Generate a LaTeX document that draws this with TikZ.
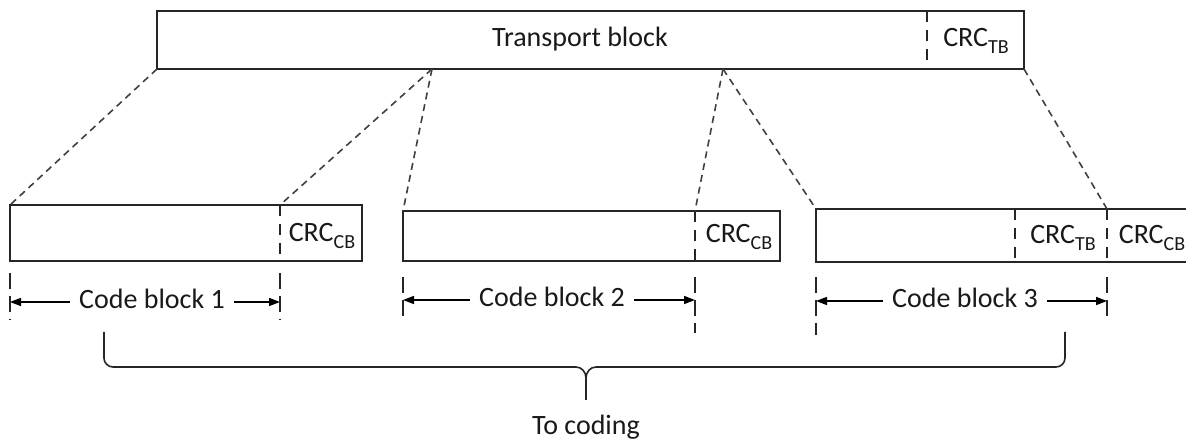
\documentclass[tikz,border=0pt]{standalone}
\usepackage{fontspec}
\setmainfont{Carlito}
\usetikzlibrary{arrows.meta,calc}
\newcommand\lowsub[1]{\raisebox{-7pt}{\fontsize{20}{20}\selectfont #1}}
\begin{document}
\begin{tikzpicture}[x=1pt,y=-1pt,
  blk/.style={draw=black!85,line width=1.8pt,inner sep=0pt,outer sep=0pt,anchor=north west},
  divider/.style={draw=black!85,line width=1.6pt,dash pattern=on 11pt off 8pt},
  splitline/.style={draw=black!75,line width=1.6pt,dash pattern=on 7pt off 5pt},
  tick/.style={draw=black!85,line width=1.6pt,dash pattern=on 16pt off 7pt},
  dim/.style={draw=black,line width=1.6pt,-{Triangle[length=11pt,width=8pt]}},
  lbl/.style={font=\fontsize{28}{30}\selectfont,text=black!90,inner sep=0pt},
  span/.style={lbl,anchor=base,text height=20pt,text depth=6pt,inner xsep=9pt},
  brace/.style={draw=black!85,line width=1.6pt}]
\useasboundingbox (0,0) rectangle (1186,443);
\clip (0,0) rectangle (1186,443);

% transport block with its CRC
\node[blk,minimum width=867pt,minimum height=58pt] (tb) at (157,11) {};
\coordinate (tbcut) at (927,11);
\draw[divider] (tbcut) -- (tbcut |- tb.south);
\node[lbl,anchor=base] (tbtext) at (580,47) {Transport block};
\node[lbl,anchor=base] (tbcrc) at (976,47) {CRC\lowsub{TB}};
\coordinate (s1) at (432,69);
\coordinate (s2) at (723,69);

% code blocks
\node[blk,minimum width=352pt,minimum height=56pt] (cb1) at (10,205) {};
\coordinate (c1) at (280,205);
\draw[divider] (c1) -- (c1 |- cb1.south);
\node[lbl,anchor=base] (crc1) at (322,242) {CRC\lowsub{CB}};

\node[blk,minimum width=377pt,minimum height=50pt] (cb2) at (403,211) {};
\coordinate (c2) at (695,211);
\draw[divider] (c2) -- (c2 |- cb2.south);
\node[lbl,anchor=base] (crc2) at (739,243) {CRC\lowsub{CB}};

\node[blk,minimum width=390pt,minimum height=53pt] (cb3) at (816,209) {};
\coordinate (c3a) at (1015,209);
\coordinate (c3b) at (1107,209);
\draw[divider] (c3a) -- (c3a |- cb3.south);
\draw[divider] (c3b) -- (c3b |- cb3.south);
\node[lbl,anchor=base] (crc3a) at (1063,244) {CRC\lowsub{TB}};
\node[lbl,anchor=base] (crc3b) at (1152,244) {CRC\lowsub{CB}};

% segmentation lines
\draw[splitline] (tb.south west) -- (cb1.north west);
\draw[splitline] (s1) -- (c1);
\draw[splitline] (s1) -- (cb2.north west);
\draw[splitline] (s2) -- (c2);
\draw[splitline] (s2) -- (cb3.north west);
\draw[splitline] (tb.south east) -- (c3b);

% extent of each code block
\draw[tick] (10,273) -- (10,320);
\draw[tick] (280,273) -- (280,320);
\node[span] (len1) at (152,309) {Code block 1};
\draw[dim] (len1.west) -- (len1.west -| cb1.west);
\draw[dim] (len1.east) -- (len1.east -| c1);

\draw[tick] (403,277) -- (403,320);
\draw[tick] (695,277) -- (695,333);
\node[span] (len2) at (552,307) {Code block 2};
\draw[dim] (len2.west) -- (len2.west -| cb2.west);
\draw[dim] (len2.east) -- (len2.east -| c2);

\draw[tick] (816,277) -- (816,335);
\draw[tick] (1107,277) -- (1107,320);
\node[span] (len3) at (965,308) {Code block 3};
\draw[dim] (len3.west) -- (len3.west -| cb3.west);
\draw[dim] (len3.east) -- (len3.east -| c3b);

% brace gathering the code blocks
\coordinate (bl) at (104,332);
\coordinate (br) at (1065,332);
\coordinate (bt) at (586,400);
\draw[brace] (bl) -- (104,358) to[out=-90,in=180] (113,367) -- (576,367)
  to[out=0,in=90] (bt |- 0,378) -- (bt);
\draw[brace] (bt |- 0,378) to[out=90,in=180] (596,367) -- (1056,367)
  to[out=0,in=-90] (1065,358) -- (br);
\node[lbl,anchor=base] (coding) at (586,434) {To coding};
\end{tikzpicture}
\end{document}
